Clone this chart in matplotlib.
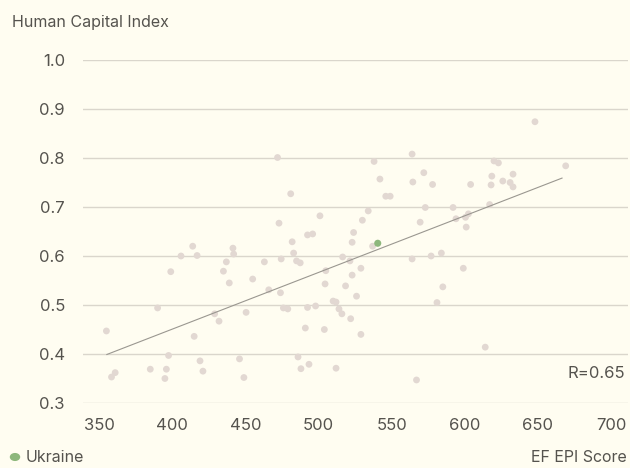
import numpy as np
import matplotlib
matplotlib.use("Agg")
import matplotlib.pyplot as plt

# EF EPI score vs Human Capital Index
epi = [472, 481, 473, 492.5, 496, 501, 648, 564, 538, 620, 623, 669, 572, 542,
       564.5, 578, 604, 618.5, 618, 626, 633, 631, 633, 546, 549, 573, 592, 617,
       534, 530, 569.5, 594, 600.5, 602.5, 601, 524, 355, 358.5, 361, 390, 385,
       396, 395, 397.5, 399, 406, 414, 417, 415, 419, 421, 429, 432, 435, 439,
       437, 441.5, 442, 446, 449, 450.5, 455, 463, 466, 474, 474.5, 476, 479,
       482, 483, 485, 487.5, 486, 488, 491, 492.5, 493.5, 498, 523, 537, 516.5,
       521.5, 505, 529, 523, 504.5, 518.5, 526, 564, 577, 584, 599, 585, 581,
       510, 512, 514, 516, 522, 504, 529, 614, 512, 567]
hci = [0.801, 0.727, 0.667, 0.643, 0.645, 0.682, 0.874, 0.808, 0.793, 0.794,
       0.790, 0.784, 0.770, 0.757, 0.751, 0.746, 0.746, 0.763, 0.745, 0.753,
       0.767, 0.750, 0.741, 0.722, 0.722, 0.699, 0.699, 0.705, 0.692, 0.673,
       0.669, 0.676, 0.679, 0.686, 0.659, 0.648, 0.447, 0.353, 0.362, 0.494,
       0.369, 0.369, 0.350, 0.397, 0.568, 0.600, 0.620, 0.601, 0.436, 0.386,
       0.365, 0.482, 0.467, 0.569, 0.545, 0.588, 0.616, 0.604, 0.390, 0.352,
       0.485, 0.553, 0.588, 0.531, 0.525, 0.594, 0.494, 0.492, 0.629, 0.606,
       0.590, 0.586, 0.394, 0.370, 0.453, 0.495, 0.379, 0.498, 0.628, 0.620,
       0.598, 0.590, 0.570, 0.575, 0.561, 0.543, 0.539, 0.518, 0.594, 0.600,
       0.606, 0.575, 0.537, 0.505, 0.508, 0.506, 0.492, 0.482, 0.472, 0.450,
       0.440, 0.414, 0.371, 0.347]
ukraine_epi = [540.5]
ukraine_hci = [0.626]
trend_epi = [355.3, 666.5]
trend_hci = [0.399, 0.759]
r_value = 0.65

xticks = [350, 400, 450, 500, 550, 600, 650, 700]
yticks = [0.3, 0.4, 0.5, 0.6, 0.7, 0.8, 0.9, 1.0]

bg = "#fffdf1"
text_col = "#55534e"

plt.rcParams['font.family'] = ['Inter', 'DejaVu Sans']

fig = plt.figure(figsize=(6.3, 4.68), dpi=100, facecolor=bg)
ax = fig.add_axes([83 / 630, 1 - 403 / 468, 545 / 630, 343 / 468])
ax.set_facecolor(bg)

ax.scatter(epi, hci, s=24, color="#e2d8d2", edgecolors="none", zorder=3)
ax.scatter(ukraine_epi, ukraine_hci, s=26, color="#8db77c", edgecolors="none", zorder=4)
ax.plot(trend_epi, trend_hci, color="#9a9790", linewidth=0.8, zorder=5)

ax.set_xlim(339, 711.6)
ax.set_ylim(0.3, 1.0)
ax.set_xticks(xticks)
ax.set_yticks(yticks)
ax.set_xticklabels([str(v) for v in xticks])
ax.set_yticklabels(["%.1f" % v for v in yticks])
ax.grid(axis="y", color="#dad6cc", linewidth=1.0, zorder=0)
ax.grid(axis="x", visible=False)
for s in ax.spines.values():
    s.set_visible(False)
ax.tick_params(length=0, colors=text_col, labelsize=12)
ax.tick_params(axis="x", pad=11)
ax.tick_params(axis="y", pad=13)

ax.text(0.994, 0.087, "R=%.2f" % r_value, transform=ax.transAxes, ha="right",
        va="center", fontsize=12, color=text_col)

fig.text(12 / 630, 1 - 23 / 468, "Human Capital Index", ha="left", va="center",
         fontsize=11.5, color=text_col)
fig.text(627 / 630, 1 - 458 / 468, "EF EPI Score", ha="right", va="center",
         fontsize=11.5, color=text_col)
fig.text(26 / 630, 1 - 458 / 468, "Ukraine", ha="left", va="center",
         fontsize=11.5, color=text_col)
fig.patches.append(matplotlib.patches.Circle((15 / 630, 1 - 457 / 468), 4.5 / 630,
                                             transform=fig.transFigure, color="#8db77c",
                                             figure=fig))

fig.savefig("out.png", dpi=100, facecolor=bg)
